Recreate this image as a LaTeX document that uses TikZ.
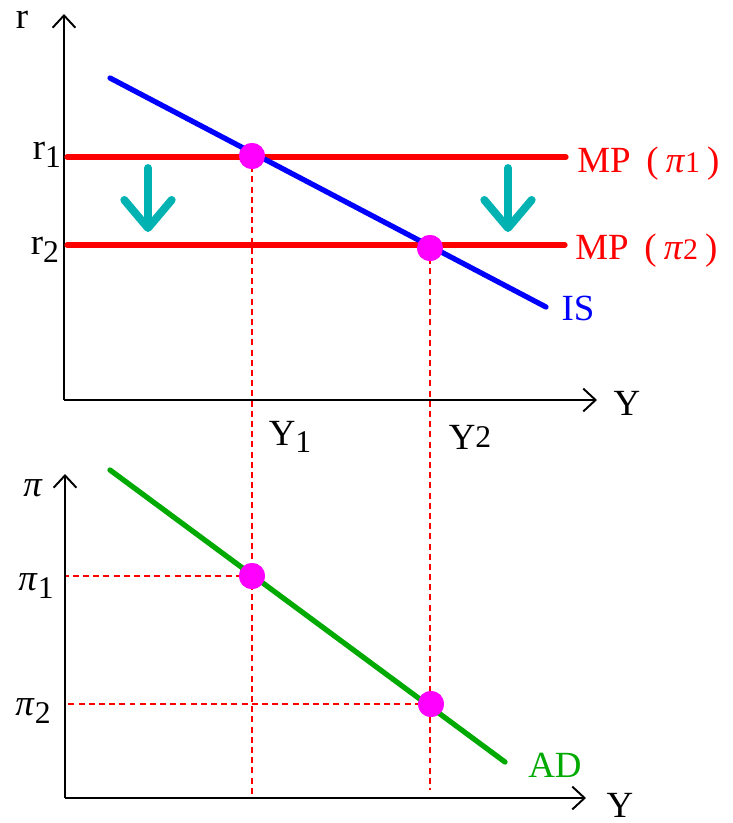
\documentclass[tikz,border=0pt]{standalone}
\usepackage{fontspec}
\setmainfont{Liberation Serif}
\usepackage{xcolor}
\usetikzlibrary{arrows.meta,positioning,calc}
\definecolor{adgreen}{RGB}{0,170,0}
\definecolor{shiftteal}{RGB}{0,178,178}
\definecolor{dotpink}{RGB}{255,0,255}
\newcommand{\lowsub}[1]{\raisebox{-0.45ex}{\fontsize{18}{18}\selectfont #1}}
\newcommand{\highsub}[1]{\raisebox{0.12ex}{\fontsize{18}{18}\selectfont #1}}
\newcommand{\mplabel}[1]{MP\hspace{9pt}(\hspace{4pt}\textit{π}{\fontsize{17}{17}\selectfont #1}\hspace{4pt})}

\begin{document}
\begin{tikzpicture}[
    x=0.02cm, y=-0.02cm,
    axis_line/.style={line width=1.1pt, -{Straight Barb[length=7pt,width=13pt]}},
    curve/.style={line width=3pt, line cap=round},
    guide/.style={draw=red, line width=0.9pt, dash pattern=on 3.4pt off 2.4pt},
    dot/.style={circle, fill=dotpink, inner sep=0pt, minimum size=0.52cm},
    shift_arrow/.style={draw=shiftteal, line width=4.5pt, line cap=round, -{Straight Barb[round,length=16pt,width=27pt]}},
    lbl/.style={font=\fontsize{21}{24}\selectfont, inner sep=0pt}
]
    \useasboundingbox (0,0) rectangle (733,823);

    \coordinate (o1) at (64,400);
    \coordinate (rtop) at (64,14);
    \coordinate (yend1) at (597,400);
    \coordinate (o2) at (65,798);
    \coordinate (pitop) at (65,474);
    \coordinate (yend2) at (586,798);

    \coordinate (is_a) at (110,78);
    \coordinate (is_b) at (546,307);
    \coordinate (mp1_a) at (67,157);
    \coordinate (mp1_b) at (566,157);
    \coordinate (mp2_a) at (67,245);
    \coordinate (mp2_b) at (565,245);
    \coordinate (ad_a) at (110,470);
    \coordinate (ad_b) at (505,762);

    \node[dot] (e1) at (252,156) {};
    \node[dot] (e2) at (430,248) {};
    \node[dot] (a1) at (252,576) {};
    \node[dot] (a2) at (431,704) {};

    \draw[guide] (e1.center) -- (e1.center |- o2);
    \draw[guide] (e2.center) -- ($(e2.center |- o2)+(0,-8)$);
    \draw[guide] (a1.center) -- (a1.center -| o2);
    \draw[guide] (a2.center) -- (a2.center -| o2);

    \draw[axis_line] (o1) -- (rtop);
    \draw[axis_line] (o1) -- (yend1);
    \draw[axis_line] (o2) -- (pitop);
    \draw[axis_line] (o2) -- (yend2);

    \draw[curve, red] (mp1_a) -- (mp1_b);
    \draw[curve, red] (mp2_a) -- (mp2_b);
    \draw[curve, blue] (is_a) -- (is_b);
    \draw[curve, adgreen] (ad_a) -- (ad_b);

    \node[dot] at (e1) {};
    \node[dot] at (e2) {};
    \node[dot] at (a1) {};
    \node[dot] at (a2) {};

    \coordinate (s1_a) at (148,168);
    \coordinate (s1_b) at (148,232);
    \coordinate (s2_a) at (508,168);
    \coordinate (s2_b) at (508,232);
    \draw[shift_arrow] (s1_a) -- (s1_b);
    \draw[shift_arrow] (s2_a) -- (s2_b);

    \node[lbl] (r_lbl) at (22,20) {r};
    \node[lbl] (r1_lbl) at (47,155) {r\lowsub{1}};
    \node[lbl] (r2_lbl) at (45,250) {r\lowsub{2}};
    \node[lbl] (y_lbl) at (627,403) {Y};
    \node[lbl, red, anchor=west, right=11 of mp1_b, yshift=-4pt] (mp1_lbl) {\mplabel{1}};
    \node[lbl, red, anchor=west, right=10 of mp2_b, yshift=-3pt] (mp2_lbl) {\mplabel{2}};
    \node[lbl, blue] (is_lbl) at (578,308) {IS};
    \node[lbl] (y1_lbl) at (290,437) {Y\lowsub{1}};
    \node[lbl] (y2_lbl) at (470,437) {Y\highsub{2}};

    \node[lbl] (pi_lbl) at (33,488) {\textit{π}};
    \node[lbl] (pi1_lbl) at (36,586) {\textit{π}\lowsub{1}};
    \node[lbl] (pi2_lbl) at (33,711) {\textit{π}\lowsub{2}};
    \node[lbl, adgreen] (ad_lbl) at (555,765) {AD};
    \node[lbl] (y_lbl2) at (620,805) {Y};
\end{tikzpicture}
\end{document}
